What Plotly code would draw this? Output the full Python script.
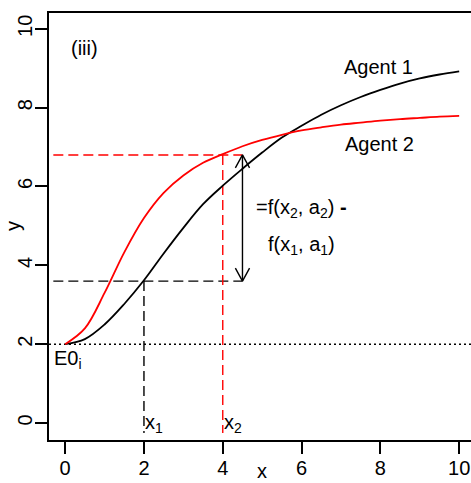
import plotly.graph_objects as go

# ---- data ----
agent1_x = [0, 0.5, 1.0, 1.5, 2.0, 2.5, 3.0, 3.5, 4.0, 4.5, 5.0, 5.5, 6.0, 6.5, 7.0, 7.5, 8.0, 8.5, 9.0, 9.5, 10.0]
agent1_y = [2.0, 2.13, 2.5, 3.02, 3.62, 4.3, 4.95, 5.55, 6.02, 6.45, 6.86, 7.24, 7.54, 7.82, 8.06, 8.27, 8.45, 8.61, 8.74, 8.84, 8.92]

agent2_x = [0, 0.5, 1.0, 1.5, 2.0, 2.5, 3.0, 3.5, 4.0, 4.5, 5.0, 5.5, 6.0, 6.5, 7.0, 7.5, 8.0, 8.5, 9.0, 9.5, 10.0]
agent2_y = [2.0, 2.4, 3.3, 4.33, 5.2, 5.84, 6.28, 6.6, 6.82, 7.02, 7.18, 7.31, 7.42, 7.5, 7.57, 7.62, 7.67, 7.71, 7.74, 7.77, 7.79]

E0 = 2.0            # baseline
x1, fx1 = 2.0, 3.6  # agent 1 point
x2, fx2 = 4.0, 6.8  # agent 2 point
arrow_x = 4.5
x_ticks = [0, 2, 4, 6, 8, 10]
y_ticks = [0, 2, 4, 6, 8, 10]

FONT = "Liberation Sans, Arial, sans-serif"
RED = "#ff0000"
BLK = "#000000"
XR = [-0.41, 10.30]
YR = [-0.43, 10.40]
left_start = -0.3
drop_end = -0.25

fig = go.Figure()

# baseline dotted line
fig.add_trace(go.Scatter(x=XR, y=[E0, E0], mode="lines",
                         line=dict(color=BLK, width=1.4, dash="2px,3px"), hoverinfo="skip"))
# dashed guides
fig.add_trace(go.Scatter(x=[left_start, arrow_x], y=[fx1, fx1], mode="lines",
                         line=dict(color=BLK, width=1.4, dash="10px,5px")))
fig.add_trace(go.Scatter(x=[x1, x1], y=[fx1, drop_end], mode="lines",
                         line=dict(color=BLK, width=1.4, dash="10px,5px")))
fig.add_trace(go.Scatter(x=[left_start, arrow_x], y=[fx2, fx2], mode="lines",
                         line=dict(color=RED, width=1.4, dash="10px,5px")))
fig.add_trace(go.Scatter(x=[x2, x2], y=[fx2, drop_end], mode="lines",
                         line=dict(color=RED, width=1.4, dash="10px,5px")))

# curves
fig.add_trace(go.Scatter(x=agent1_x, y=agent1_y, mode="lines", line_shape="spline",
                         line=dict(color=BLK, width=1.8)))
fig.add_trace(go.Scatter(x=agent2_x, y=agent2_y, mode="lines", line_shape="spline",
                         line=dict(color=RED, width=1.8)))

# double-headed arrow (open V heads)
hdx, hdy = 0.18, 0.33
fig.add_trace(go.Scatter(x=[arrow_x, arrow_x], y=[fx1, fx2], mode="lines",
                         line=dict(color=BLK, width=1.4)))
fig.add_trace(go.Scatter(x=[arrow_x - hdx, arrow_x, arrow_x + hdx], y=[fx2 - hdy, fx2, fx2 - hdy],
                         mode="lines", line=dict(color=BLK, width=1.4)))
fig.add_trace(go.Scatter(x=[arrow_x - hdx, arrow_x, arrow_x + hdx], y=[fx1 + hdy, fx1, fx1 + hdy],
                         mode="lines", line=dict(color=BLK, width=1.4)))

ann = []
def txt(x, y, s, xanchor="center", size=20, **kw):
    ann.append(dict(x=x, y=y, text=s, showarrow=False, xanchor=xanchor, yanchor="middle",
                    font=dict(family=FONT, size=size, color=BLK), **kw))

txt(0.5, 9.52, "(iii)")
txt(7.96, 9.03, "Agent 1")
txt(7.98, 7.07, "Agent 2")
txt(6.0, 5.45, "=f(x<sub>2</sub>, a<sub>2</sub>) <b>-</b>")
txt(6.0, 4.5, "f(x<sub>1</sub>, a<sub>1</sub>)")
txt(-0.34, 1.62, "E0<sub>i</sub>", xanchor="left")
txt(x1 - 0.02, 0.0, "x<sub>1</sub>", xanchor="left")
txt(x2 - 0.02, 0.0, "x<sub>2</sub>", xanchor="left")
# axis titles
ann.append(dict(x=5.0, xref="x", y=0, yref="paper", yshift=-31, text="x", showarrow=False,
                xanchor="center", yanchor="middle", font=dict(family=FONT, size=20, color=BLK)))
ann.append(dict(x=0, xref="paper", y=5.0, yref="y", xshift=-36, text="y", showarrow=False,
                textangle=-90, xanchor="center", yanchor="middle",
                font=dict(family=FONT, size=20, color=BLK)))

fig.update_layout(
    width=471, height=483,
    margin=dict(l=49, r=0, t=13, b=43, pad=0),
    paper_bgcolor="white", plot_bgcolor="white",
    showlegend=False,
    annotations=ann,
    xaxis=dict(range=XR, tickvals=x_ticks, ticktext=[str(v) for v in x_ticks],
               showgrid=False, zeroline=False, showline=True, linecolor=BLK, linewidth=1.5,
               mirror=True, ticks="outside", ticklen=12, tickwidth=1.5, tickcolor=BLK,
               ticklabelstandoff=-3,
               tickfont=dict(family=FONT, size=20, color=BLK)),
    yaxis=dict(range=YR, tickvals=y_ticks, ticktext=[str(v) for v in y_ticks],
               showgrid=False, zeroline=False, showline=True, linecolor=BLK, linewidth=1.5,
               mirror=False, ticks="outside", ticklen=12, tickwidth=1.5, tickcolor=BLK,
               tickangle=-90, ticklabelstandoff=-5,
               tickfont=dict(family=FONT, size=20, color=BLK)),
)

fig.write_html("out.html")
